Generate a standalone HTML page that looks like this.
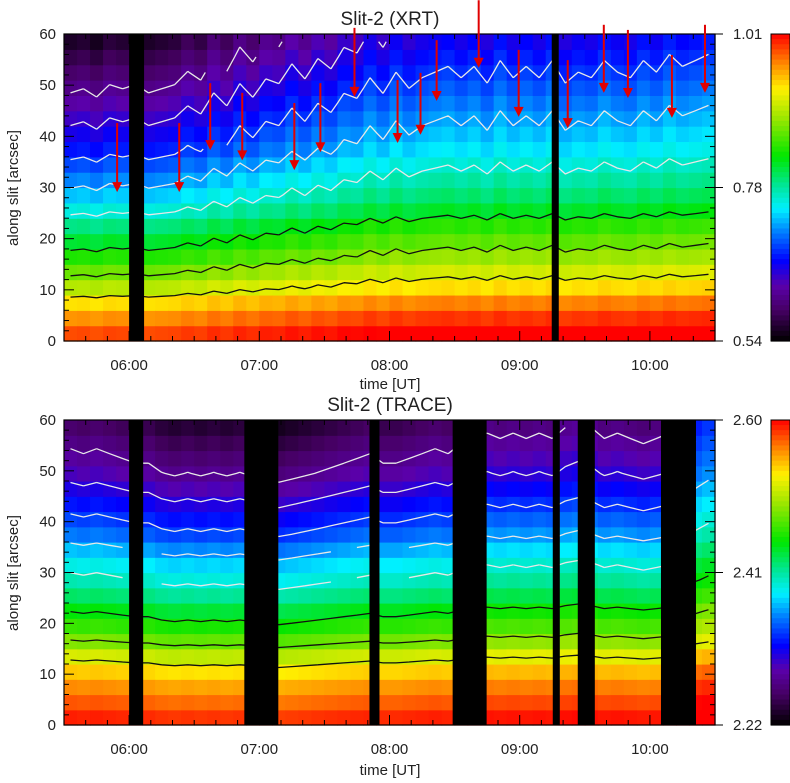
<!DOCTYPE html>
<html><head><meta charset="utf-8"><style>
html,body{margin:0;padding:0;background:#fff;}
svg text{font-family:"Liberation Sans",sans-serif;fill:#222;}
</style></head><body>
<svg id="fig" width="790" height="778" viewBox="0 0 790 778" xmlns="http://www.w3.org/2000/svg">
<g id="g1"></g>
<g id="g2"></g>
<text x="390" y="25" text-anchor="middle" font-size="19">Slit-2 (XRT)</text>
<text x="390" y="411" text-anchor="middle" font-size="19">Slit-2 (TRACE)</text>
<text x="390" y="389" text-anchor="middle" font-size="15">time [UT]</text>
<text x="390" y="775" text-anchor="middle" font-size="15">time [UT]</text>
<text transform="translate(18,188) rotate(-90)" text-anchor="middle" font-size="15">along slit [arcsec]</text>
<text transform="translate(18,573) rotate(-90)" text-anchor="middle" font-size="15">along slit [arcsec]</text>
</svg>
<script>
// ---- data ----
const heightRows = [1.5,4.5,7.5,10.5,13.5,16.5,19.5,22.5,25.5,28.5,31.5,34.5,37.5,40.5,43.5,46.5,49.5,52.5,55.5,58.5];
const xrtProfile = [0.97,0.92,0.86,0.78,0.72,0.66,0.61,0.56,0.50,0.45,0.41,0.37,0.33,0.30,0.27,0.24,0.21,0.18,0.15,0.12];
const traceProfile = [0.97,0.93,0.89,0.84,0.77,0.69,0.63,0.58,0.52,0.47,0.43,0.38,0.33,0.29,0.25,0.21,0.17,0.14,0.11,0.08];
const timeCols = [5.5,5.6,5.7,5.8,5.9,6.0,6.1,6.2,6.3,6.4,6.5,6.6,6.7,6.8,6.9,7.0,7.1,7.2,7.3,7.4,7.5,7.6,7.7,7.8,7.9,8.0,8.1,8.2,8.3,8.4,8.5,8.6,8.7,8.8,8.9,9.0,9.1,9.2,9.3,9.4,9.5,9.6,9.7,9.8,9.9,10.0,10.1,10.2,10.3,10.4];
const xrtColOffset = [-0.08,-0.07,-0.09,-0.06,-0.07,-0.06,-0.08,-0.07,-0.06,-0.03,-0.05,0.0,-0.03,0.02,-0.01,0.03,0.02,0.06,0.03,0.07,0.05,0.09,0.08,0.12,0.09,0.13,0.10,0.12,0.13,0.14,0.12,0.14,0.11,0.15,0.12,0.14,0.12,0.15,0.11,0.13,0.12,0.15,0.13,0.12,0.15,0.13,0.16,0.14,0.15,0.16];
const traceColOffset = [0.03,0.02,0.03,0.02,0.01,0.0,0.0,-0.02,-0.03,-0.02,-0.03,-0.02,-0.03,-0.02,-0.03,-0.04,-0.05,-0.04,-0.03,-0.02,-0.01,0.0,0.01,0.02,0.0,0.0,0.01,0.02,0.03,0.02,0.04,0.05,0.06,0.05,0.06,0.05,0.06,0.05,0.07,0.08,0.07,0.05,0.06,0.05,0.04,0.05,0.06,0.10,0.20,0.22];
const xrtGaps = [[6.0,6.115],[9.246,9.30]];
const traceGaps = [[6.0,6.108],[6.885,7.146],[7.846,7.923],[8.485,8.746],[9.254,9.308],[9.446,9.577],[10.085,10.354]];
const contourLevels = [0.15,0.22,0.30,0.38,0.47,0.60,0.70,0.80];
const arrowTime = [5.908,6.385,6.623,6.869,7.269,7.469,7.731,8.062,8.238,8.362,8.685,8.992,9.369,9.646,9.831,10.169,10.423];
const arrowFrom = [42.6,42.6,50.4,48.5,46.5,50.4,61.2,51.0,52.4,58.8,66.6,56.9,54.9,61.8,60.8,55.9,61.8];
const arrowTo = [29.1,29.1,37.3,35.3,33.4,36.9,47.7,38.7,40.3,46.9,53.4,43.8,41.6,48.5,47.5,43.6,48.5];
const xTickLabels = ["06:00","07:00","08:00","09:00","10:00"];
const xTickHours = [6,7,8,9,10];
const yTickLabels = ["0","10","20","30","40","50","60"];
const xrtCbarLabels = ["1.01","0.78","0.54"];
const traceCbarLabels = ["2.60","2.41","2.22"];

// ---- colormap ----
const stops=[[0,0,0,0],[0.1,70,0,100],[0.18,90,0,170],[0.26,0,0,255],[0.35,0,120,255],[0.43,0,240,255],[0.5,0,230,160],[0.6,0,230,0],[0.72,150,230,0],[0.82,255,240,0],[0.9,255,140,0],[1,255,0,0]];
function cmap(v){v=Math.max(0,Math.min(1,v));for(let i=1;i<stops.length;i++){if(v<=stops[i][0]){const a=stops[i-1],b=stops[i],t=(v-a[0])/(b[0]-a[0]);return `rgb(${Math.round(a[1]+t*(b[1]-a[1]))},${Math.round(a[2]+t*(b[2]-a[2]))},${Math.round(a[3]+t*(b[3]-a[3]))})`;}}return 'rgb(255,0,0)';}
const NS='http://www.w3.org/2000/svg';
function mk(tag,attrs,parent){const e=document.createElementNS(NS,tag);for(const k in attrs)e.setAttribute(k,attrs[k]);parent.appendChild(e);return e;}

function panel(g,top,bottom,profile,colOff,gaps,cbarLabels,prefix){
  const L=64,R=715;
  const xs=h=>L+(h-5.5)/5*(R-L);
  const ys=a=>bottom-a/60*(bottom-top);
  const val=(i,j)=>profile[j]+colOff[i]*(0.3+0.7*j/19);
  for(let i=0;i<timeCols.length;i++){
    for(let j=0;j<heightRows.length;j++){
      const v=val(i,j);
      const x0=xs(timeCols[i]),x1=xs(timeCols[i]+0.1);
      const y0=ys(heightRows[j]+1.5),y1=ys(heightRows[j]-1.5);
      const r=mk('rect',{x:x0.toFixed(2),y:y0.toFixed(2),width:(x1-x0+0.6).toFixed(2),height:(y1-y0+0.6).toFixed(2),fill:cmap(v)},g);
      
      
    }
  }
  // contours (marching squares on cell centres)
  const cg=mk('g',{fill:'none'},g);
  
  
  contourLevels.forEach(lv=>{
    let d='';
    for(let i=0;i<timeCols.length-1;i++){
      for(let j=0;j<heightRows.length-1;j++){
        const c=[[i,j],[i+1,j],[i+1,j+1],[i,j+1]];
        const v=c.map(p=>val(p[0],p[1]));
        const pts=[];
        for(let e=0;e<4;e++){
          const a=v[e],b=v[(e+1)%4];
          if((a-lv)*(b-lv)<0){
            const t=(lv-a)/(b-a),p=c[e],q=c[(e+1)%4];
            const ti=p[0]+t*(q[0]-p[0]),tj=p[1]+t*(q[1]-p[1]);
            pts.push([xs(timeCols[0]+0.05+ti*0.1),ys(1.5+tj*3)]);
          }
        }
        if(pts.length>=2) d+=`M${pts[0][0].toFixed(1)},${pts[0][1].toFixed(1)}L${pts[1][0].toFixed(1)},${pts[1][1].toFixed(1)}`;
        if(pts.length===4) d+=`M${pts[2][0].toFixed(1)},${pts[2][1].toFixed(1)}L${pts[3][0].toFixed(1)},${pts[3][1].toFixed(1)}`;
      }
    }
    const p=mk('path',{d:d,stroke:lv<0.55?'#e8e8e8':'#111','stroke-width':1.3},cg);
    
    
  });
  gaps.forEach(gp=>{
    const r=mk('rect',{x:xs(gp[0]),y:top,width:xs(gp[1])-xs(gp[0]),height:bottom-top,fill:'#000'},g);
    
    
  });
  const f=mk('rect',{x:L,y:top,width:R-L,height:bottom-top,fill:'none',stroke:'#000','stroke-width':1.2},g);
  
  
  for(let m=0;m<=300;m+=10){
    const h=5.5+m/60, x=xs(h), major=(Math.abs(h-Math.round(h))<1e-6);
    const len=major?10:5;
    mk('line',{x1:x,y1:bottom,x2:x,y2:bottom-len,stroke:'#000'},g);
    mk('line',{x1:x,y1:top,x2:x,y2:top+len,stroke:'#000'},g);
  }
  xTickHours.forEach((h,k)=>{
    const t=mk('text',{x:xs(h),y:bottom+29,'text-anchor':'middle','font-size':15},g);
    t.textContent=xTickLabels[k];
    
    
  });
  for(let a=0;a<=60;a+=2){
    const y=ys(a),major=a%10===0,len=major?10:5;
    mk('line',{x1:L,y1:y,x2:L+len,y2:y,stroke:'#000'},g);
    mk('line',{x1:R,y1:y,x2:R-len,y2:y,stroke:'#000'},g);
  }
  yTickLabels.forEach((lab,k)=>{
    const t=mk('text',{x:L-8,y:ys(k*10)+5,'text-anchor':'end','font-size':15},g);
    t.textContent=lab;
    
    
  });
  cbarLabels.forEach((lab,k)=>{
    const y=top+(bottom-top)*k/2;
    mk('line',{x1:R,y1:y,x2:R+8,y2:y,stroke:'#000'},g);
    const t=mk('text',{x:R+18,y:y+5,'font-size':15},g);
    t.textContent=lab;
    
    
  });
  const cb=mk('g',{},g);
  
  
  const n=60;
  for(let k=0;k<n;k++){
    const y0=top+(bottom-top)*k/n;
    mk('rect',{x:771,y:y0,width:19,height:(bottom-top)/n+0.6,fill:cmap(1-(k+0.5)/n)},cb);
  }
  mk('rect',{x:771,y:top,width:19,height:bottom-top,fill:'none',stroke:'#000'},cb);
  return {xs,ys};
}
const g1=document.getElementById('g1'),g2=document.getElementById('g2');
const p1=panel(g1,34,341,xrtProfile,xrtColOffset,xrtGaps,xrtCbarLabels,'xrt');
panel(g2,420,725,traceProfile,traceColOffset,traceGaps,traceCbarLabels,'trace');
arrowTime.forEach((h,k)=>{
  const x=p1.xs(h),y0=p1.ys(arrowFrom[k]),y1=p1.ys(arrowTo[k]);
  const a=mk('g',{},g1);
  
  
  mk('line',{x1:x,y1:y0,x2:x,y2:y1-8,stroke:'#e00000','stroke-width':2},a);
  mk('polygon',{points:`${x-5},${y1-10} ${x+5},${y1-10} ${x},${y1}`,fill:'#e00000'},a);
});
</script>
</body></html>
